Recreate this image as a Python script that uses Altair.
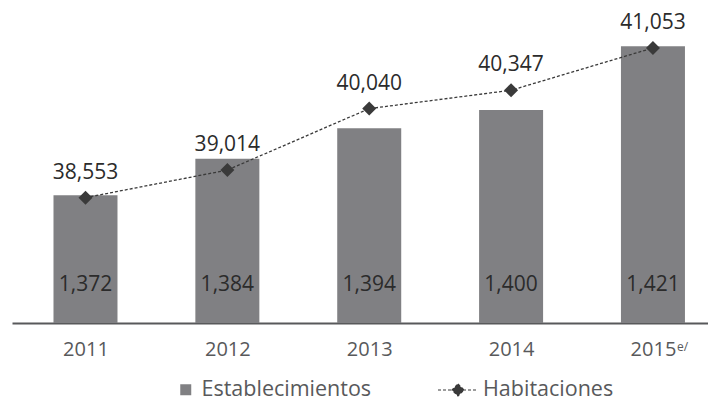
import altair as alt
import pandas as pd

anios = [2011, 2012, 2013, 2014, 2015]
establecimientos = [1372, 1384, 1394, 1400, 1421]
habitaciones = [38553, 39014, 40040, 40347, 41053]
nota_anio = [2015]
nota_texto = ["e/"]

FONT = "Open Sans"
BAR_COLOR = "#808083"
LINE_COLOR = "#3a3a3a"
LABEL_COLOR = "#58595b"
TEXT_COLOR = "#2b2b2b"

df = pd.DataFrame({
    "anio": anios,
    "est": establecimientos,
    "hab": habitaciones,
    "serie_b": ["Establecimientos"] * 5,
    "serie_l": ["Habitaciones"] * 5,
})
df_nota = pd.DataFrame({"anio": nota_anio, "nota": nota_texto})

x_scale = alt.Scale(domain=[2010.482, 2015.388], nice=False, zero=False, padding=0)
x_enc = alt.X("anio:Q", scale=x_scale,
              axis=alt.Axis(values=anios, format="d", title=None, grid=False,
                            ticks=False, labelFontSize=20, labelColor=LABEL_COLOR,
                            labelFont=FONT, labelPadding=16, domainColor=LABEL_COLOR,
                            domainWidth=2))
ybar_scale = alt.Scale(domain=[1330, 1432.9], nice=False, zero=False)
yline_scale = alt.Scale(domain=[36460, 41687], nice=False, zero=False)

base = alt.Chart(df)

bars = base.mark_bar(size=64).encode(
    x=x_enc,
    y=alt.Y("est:Q", scale=ybar_scale, axis=None),
    y2=alt.Y2(datum=1330),
    color=alt.Color("serie_b:N", scale=alt.Scale(range=[BAR_COLOR]),
                    legend=alt.Legend(orient="none", legendX=163, legendY=369,
                                      title=None, symbolType="square", symbolSize=121,
                                      symbolStrokeWidth=0,
                                      labelFontSize=21.5, labelFont=FONT,
                                      labelColor=LABEL_COLOR, labelOffset=5,
                                      labelLimit=400, padding=0)),
)

bar_text = base.mark_text(fontSize=21, font=FONT, color=TEXT_COLOR,
                          baseline="middle", dy=-38).encode(
    x=alt.X("anio:Q", scale=x_scale),
    y=alt.Y(datum=1330, scale=ybar_scale),
    text=alt.Text("est:Q", format=","),
)

nota = alt.Chart(df_nota).mark_text(fontSize=12, font=FONT, color=LABEL_COLOR,
                                    align="left", baseline="middle",
                                    dx=24, dy=24).encode(
    x=alt.X("anio:Q", scale=x_scale),
    y=alt.Y(datum=1330, scale=ybar_scale),
    text="nota:N",
)

# legend symbol: dashed line with a diamond (path drawn wider than its nominal size)
legend_path = "M-2,0H2M0,-0.6L0.6,0L0,0.6L-0.6,0Z"

line = base.mark_line(strokeDash=[3, 2], strokeWidth=1.3).encode(
    x=alt.X("anio:Q", scale=x_scale),
    y=alt.Y("hab:Q", scale=yline_scale, axis=None),
    color=alt.Color("serie_l:N", scale=alt.Scale(range=[LINE_COLOR]),
                    legend=alt.Legend(orient="none", legendX=435, legendY=369,
                                      title=None, symbolType=legend_path,
                                      symbolSize=400, symbolFillColor=LINE_COLOR,
                                      symbolStrokeColor=LINE_COLOR,
                                      symbolStrokeWidth=1.2, symbolDash=[3, 2],
                                      labelFontSize=21.5, labelFont=FONT,
                                      labelColor=LABEL_COLOR, labelOffset=14,
                                      labelLimit=400, padding=0)),
)

points = base.mark_point(shape="diamond", filled=True, size=196,
                         color=LINE_COLOR, opacity=1).encode(
    x=alt.X("anio:Q", scale=x_scale),
    y=alt.Y("hab:Q", scale=yline_scale),
)

line_text = base.mark_text(fontSize=21, font=FONT, color=TEXT_COLOR,
                           baseline="middle", dy=-25).encode(
    x=alt.X("anio:Q", scale=x_scale),
    y=alt.Y("hab:Q", scale=yline_scale),
    text=alt.Text("hab:Q", format=","),
)

bar_layer = alt.layer(bars, bar_text, nota)
line_layer = alt.layer(line, points, line_text)

chart = alt.layer(bar_layer, line_layer).resolve_scale(
    y="independent", color="independent"
).properties(
    width=696, height=313,
    padding={"left": 4, "top": 2, "right": 0, "bottom": 0},
).configure_view(stroke=None)

chart.save("out.html", embed_options={"renderer": "svg", "actions": False})
